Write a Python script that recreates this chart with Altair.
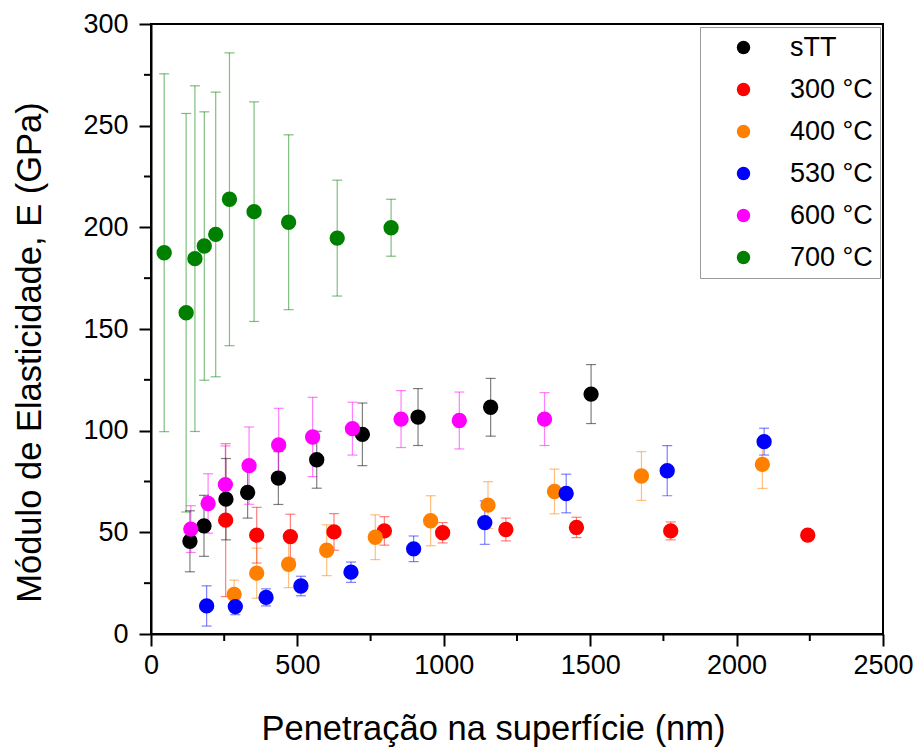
import altair as alt
import pandas as pd

series_names = ["sTT", "300 °C", "400 °C", "530 °C", "600 °C", "700 °C"]
series_colors = ["#000000", "#ff0000", "#ff8000", "#0000ff", "#ff00ff", "#008000"]

x_stt = [133, 181, 256, 330, 435, 566, 722, 912, 1160, 1503]
y_stt = [45.6, 53.2, 66.3, 69.6, 76.7, 85.7, 98.2, 106.7, 111.5, 118.0]
e_stt = [15, 15, 20, 12.6, 13, 14, 15.4, 14, 14.2, 14.5]

x_300 = [255, 361, 476, 625, 797, 996, 1212, 1453, 1775, 2243]
y_300 = [56.0, 48.6, 47.9, 50.2, 50.7, 49.8, 51.4, 52.4, 50.7, 48.6]
e_300 = [37.6, 13.7, 11, 9, 7, 5, 5.6, 5, 4.4, 2]

x_400 = [284, 361, 470, 600, 766, 955, 1151, 1378, 1675, 2088]
y_400 = [19.5, 29.9, 34.3, 41.2, 47.6, 55.7, 63.4, 70.1, 77.7, 83.4]
e_400 = [7, 12.3, 11.5, 12.5, 11, 12.3, 11.5, 11, 12, 11.8]

x_530 = [190, 288, 393, 512, 683, 897, 1140, 1418, 1763, 2094]
y_530 = [13.8, 13.5, 18.0, 23.6, 30.4, 41.9, 54.8, 69.1, 80.3, 94.6]
e_530 = [9.9, 4, 4.2, 4.8, 5, 6.3, 10.7, 9.5, 12.3, 6.6]

x_600 = [136, 195, 254, 335, 436, 552, 688, 854, 1053, 1344]
y_600 = [51.6, 64.2, 73.5, 82.8, 93.0, 96.9, 101.0, 105.7, 105.0, 105.7]
e_600 = [11.5, 14.6, 19, 19, 18, 19.5, 13, 14, 14, 13]

x_700 = [45, 120, 150, 182, 221, 268, 352, 470, 636, 820]
y_700 = [187.5, 158, 184.6, 190.8, 196.5, 213.8, 207.7, 202.5, 194.7, 199.8]
e_700 = [88, 98, 85, 66, 70, 72, 54, 43, 28.5, 14]

x_ticks = [0, 500, 1000, 1500, 2000, 2500]
x_minor = [250, 750, 1250, 1750, 2250]
y_ticks = [0, 50, 100, 150, 200, 250, 300]
y_minor = [25, 75, 125, 175, 225, 275]

all_x = [x_stt, x_300, x_400, x_530, x_600, x_700]
all_y = [y_stt, y_300, y_400, y_530, y_600, y_700]
all_e = [e_stt, e_300, e_400, e_530, e_600, e_700]

rows = []
for name, xs, ys, es in zip(series_names, all_x, all_y, all_e):
    for xv, yv, ev in zip(xs, ys, es):
        rows.append({"serie": name, "x": xv, "y": yv, "lo": yv - ev, "hi": yv + ev})
df = pd.DataFrame(rows)

W, H = 732, 610
FONT = "Liberation Sans"

xscale = alt.Scale(domain=[0, 2500], nice=False, zero=False)
yscale = alt.Scale(domain=[0, 300], nice=False, zero=False)
cscale = alt.Scale(domain=series_names, range=series_colors)

xaxis = alt.Axis(values=x_ticks, format="d", title="Penetração na superfície (nm)", grid=False,
                 tickSize=12, tickWidth=2, tickColor="black", domainColor="black", domainWidth=2,
                 labelFontSize=27, labelFont=FONT, labelColor="black", labelPadding=6,
                 titleFontSize=34.5, titleFont=FONT, titleFontWeight="normal", titleColor="black",
                 titleX=342, titleY=105, titleBaseline="alphabetic", titleAlign="center",
                 labelFlush=False)
yaxis = alt.Axis(values=y_ticks, format="d", title="Módulo de Elasticidade, E (GPa)", grid=False,
                 tickSize=12, tickWidth=2, tickColor="black", domainColor="black", domainWidth=2,
                 labelFontSize=27, labelFont=FONT, labelColor="black", labelPadding=11,
                 titleFontSize=34.5, titleFont=FONT, titleFontWeight="normal", titleColor="black",
                 titleX=-121, titleY=328, titleAngle=-90, titleBaseline="middle", titleAlign="center",
                 labelFlush=False)

legend = alt.Legend(title=None, orient="none", legendX=549, legendY=3,
                    labelFontSize=27, labelFont=FONT, labelColor="black",
                    symbolType="circle", symbolSize=180, symbolStrokeWidth=0, symbolOpacity=1,
                    strokeColor="#999999", padding=7, symbolOffset=23, labelOffset=33,
                    rowPadding=14)

X = lambda f: alt.X(f, scale=xscale, axis=xaxis)
Y = lambda f: alt.Y(f, scale=yscale, axis=yaxis)
C = alt.Color("serie:N", scale=cscale, legend=legend, sort=series_names)

base = alt.Chart(df)

err_rule = base.mark_rule(strokeWidth=1.2, opacity=0.5).encode(
    x=X("x:Q"), y=Y("lo:Q"), y2="hi:Q", color=C,
)
cap_lo = base.mark_tick(orient="horizontal", size=10, thickness=1.2, opacity=0.5).encode(
    x=X("x:Q"), y=Y("lo:Q"), color=C,
)
cap_hi = base.mark_tick(orient="horizontal", size=10, thickness=1.2, opacity=0.5).encode(
    x=X("x:Q"), y=Y("hi:Q"), color=C,
)
points = base.mark_point(filled=True, shape="circle", size=235, opacity=1).encode(
    x=X("x:Q"), y=Y("y:Q"), color=C,
)

ymin_df = pd.DataFrame({"v": y_minor})
xmin_df = pd.DataFrame({"v": x_minor})
ymin_rules = alt.Chart(ymin_df).mark_rule(color="black", strokeWidth=2).encode(
    y=Y("v:Q"), x=alt.value(-7), x2=alt.value(0),
)
xmin_rules = alt.Chart(xmin_df).mark_rule(color="black", strokeWidth=2).encode(
    x=X("v:Q"), y=alt.value(H), y2=alt.value(H + 7),
)

chart = alt.layer(err_rule, cap_lo, cap_hi, points, ymin_rules, xmin_rules).properties(
    width=W, height=H,
    autosize=alt.AutoSizeParams(type="none"),
    padding={"left": 151, "top": 24, "right": 34, "bottom": 115},
    background="white",
).configure_view(stroke="black", strokeWidth=2)

chart.save("out.html", embed_options={"renderer": "svg", "actions": False})
